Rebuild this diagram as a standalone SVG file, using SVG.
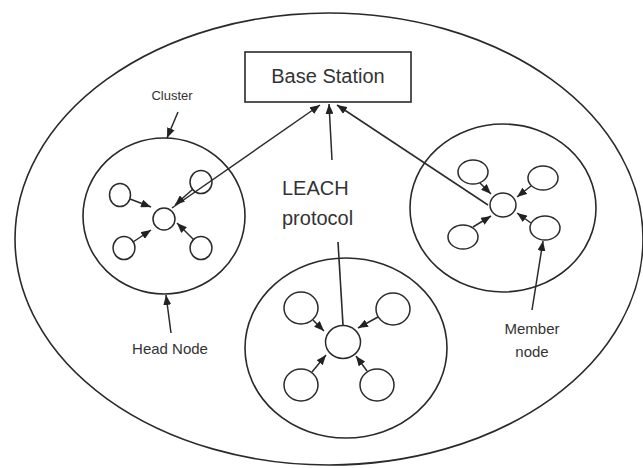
<svg xmlns="http://www.w3.org/2000/svg" width="643" height="468" viewBox="0 0 643 468">
<defs>
<marker id="ah" markerWidth="10" markerHeight="8" refX="10" refY="4" orient="auto" markerUnits="userSpaceOnUse">
<path d="M0,0 L10,4 L0,8 z" fill="#222"/>
</marker>
<style>
.ln{fill:none;stroke:#2a2a2a;stroke-width:1.6}
.ar{fill:none;stroke:#2a2a2a;stroke-width:1.5;marker-end:url(#ah)}
.nd{fill:#fff;stroke:#2a2a2a;stroke-width:1.5}
.big{font-family:"Liberation Sans",Arial,sans-serif;font-size:20px;fill:#333}
.lab{font-family:"Liberation Sans",Arial,sans-serif;font-size:15px;fill:#333}
</style>
</defs>
<rect width="643" height="468" fill="#fff"/>
<g id="network">
<ellipse class="ln" cx="329" cy="239" rx="314" ry="226"/>
</g>
<g id="base-station">
<rect x="245" y="52" width="166" height="50" fill="#fff" stroke="#2a2a2a" stroke-width="1.6"/>
<text class="big" x="328" y="83" text-anchor="middle">Base Station</text>
</g>
<g id="cluster-left">
<ellipse class="ln" cx="164" cy="216" rx="81" ry="78"/>
<ellipse class="nd" cx="164" cy="219" rx="11" ry="11"/>
<ellipse class="nd" cx="120" cy="195" rx="10.5" ry="11.5"/>
<ellipse class="nd" cx="201" cy="182" rx="11" ry="11.5"/>
<ellipse class="nd" cx="124" cy="248" rx="11" ry="11.5"/>
<ellipse class="nd" cx="201" cy="248" rx="11" ry="11.5"/>
</g>
<g id="cluster-right">
<ellipse class="ln" cx="503" cy="208" rx="93" ry="84"/>
<ellipse class="nd" cx="503" cy="205" rx="13" ry="12"/>
<ellipse class="nd" cx="473" cy="172" rx="15" ry="12"/>
<ellipse class="nd" cx="543" cy="178" rx="15" ry="12"/>
<ellipse class="nd" cx="463" cy="237" rx="15" ry="12"/>
<ellipse class="nd" cx="545" cy="228" rx="15" ry="12"/>
</g>
<g id="cluster-bottom">
<ellipse class="ln" cx="346" cy="348" rx="101" ry="90"/>
<ellipse class="nd" cx="343" cy="342" rx="17.5" ry="16.5"/>
<ellipse class="nd" cx="301" cy="308" rx="17" ry="16"/>
<ellipse class="nd" cx="393" cy="309" rx="17" ry="16"/>
<ellipse class="nd" cx="301" cy="385" rx="17" ry="16"/>
<ellipse class="nd" cx="377" cy="385" rx="17" ry="16"/>
</g>
<g id="connectors">
<line class="ar" x1="172" y1="208" x2="320" y2="105"/>
<line class="ar" x1="488" y1="205" x2="337" y2="105"/>
<line class="ln" x1="343" y1="325" x2="338" y2="242"/>
<line class="ar" x1="332" y1="160" x2="329" y2="104"/>
<line class="ar" x1="130" y1="199" x2="151" y2="207"/>
<line class="ar" x1="193" y1="189" x2="175" y2="205"/>
<line class="ar" x1="133" y1="242" x2="151" y2="230"/>
<line class="ar" x1="194" y1="240" x2="177" y2="223"/>
<line class="ar" x1="480" y1="183" x2="491" y2="194"/>
<line class="ar" x1="531" y1="186" x2="517" y2="197"/>
<line class="ar" x1="531" y1="223" x2="517" y2="213"/>
<line class="ar" x1="473" y1="227" x2="491" y2="216"/>
<line class="ar" x1="313" y1="320" x2="324" y2="331"/>
<line class="ar" x1="378" y1="317" x2="358" y2="328"/>
<line class="ar" x1="312" y1="372" x2="326" y2="355"/>
<line class="ar" x1="367" y1="371" x2="356" y2="356"/>
<line class="ar" x1="178" y1="112" x2="167" y2="138"/>
<line class="ar" x1="171" y1="333" x2="166" y2="295"/>
<line class="ar" x1="532" y1="310" x2="543" y2="241"/>
</g>
<g id="labels">
<text class="big" x="282" y="195">LEACH</text>
<text class="big" x="282" y="225">protocol</text>
<text class="lab" x="172" y="100" text-anchor="middle" style="font-size:13px">Cluster</text>
<text class="lab" x="170" y="354" text-anchor="middle">Head Node</text>
<text class="lab" x="532" y="334" text-anchor="middle">Member</text>
<text class="lab" x="532" y="357" text-anchor="middle">node</text>
</g>
</svg>
